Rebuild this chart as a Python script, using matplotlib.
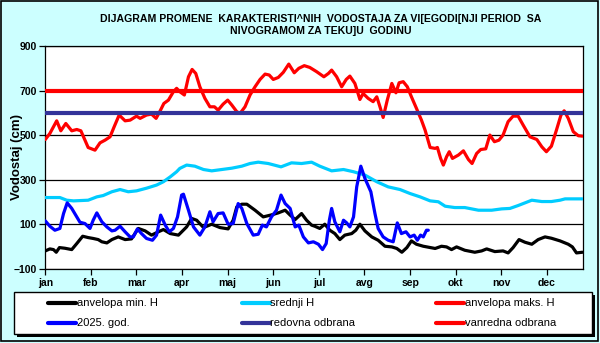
import numpy as np
import matplotlib
matplotlib.use("Agg")
import matplotlib.pyplot as plt
from matplotlib.patches import Rectangle
from matplotlib.lines import Line2D

plt.rcParams['font.family'] = ['Liberation Sans', 'DejaVu Sans']

months = ['jan', 'feb', 'mar', 'apr', 'maj', 'jun', 'jul', 'avg', 'sep', 'okt', 'nov', 'dec']

# x in months (0 = start of jan), y in cm
min_x = [0.0, 0.10, 0.18, 0.24, 0.31, 0.43, 0.58, 0.69, 0.82, 0.94, 1.05, 1.16, 1.24, 1.35, 1.46,
         1.60, 1.75, 1.89, 2.04, 2.19, 2.33, 2.48, 2.59, 2.74, 2.92, 3.10, 3.21, 3.32, 3.47, 3.65,
         3.83, 4.01, 4.12, 4.20, 4.31, 4.42, 4.60, 4.78, 4.96, 5.11, 5.26, 5.37, 5.48, 5.62, 5.73,
         5.84, 5.91, 6.02, 6.13, 6.24, 6.35, 6.46, 6.57, 6.72, 6.81, 6.90, 7.01, 7.16, 7.30, 7.45,
         7.60, 7.71, 7.82, 7.93, 8.03, 8.14, 8.29, 8.55, 8.69, 8.80, 8.91, 9.02, 9.20, 9.42, 9.57,
         9.68, 9.86, 10.04, 10.15, 10.26, 10.39, 10.52, 10.67, 10.81, 10.96, 11.10, 11.29, 11.47,
         11.56, 11.65, 11.78]
min_h = [-20, -11, -14, -26, -5, -8, -14, 13, 46, 40, 36, 31, 21, 16, 31,
         43, 31, 34, 81, 70, 51, 66, 76, 58, 51, 88, 126, 118, 85, 100,
         85, 79, 118, 178, 190, 190, 163, 133, 142, 151, 163, 141, 121, 148, 118,
         96, 91, 81, 100, 73, 58, 31, 51, 58, 73, 100, 70, 43, 28, 1,
         -2, -9, -26, -5, 25, 10, 1, -9, 1, -2, -14, -2, -17, -26, -20,
         -11, -23, -20, -29, -5, 31, 19, 10, 31, 43, 37, 25, 10,
         -2, -29, -26]

mean_x = [0.0, 0.32, 0.47, 0.62, 0.94, 1.13, 1.27, 1.46, 1.64, 1.82, 2.00, 2.22, 2.44, 2.59, 2.74,
          2.88, 2.95, 3.10, 3.28, 3.47, 3.65, 3.87, 4.09, 4.31, 4.49, 4.67, 4.89, 5.17, 5.40, 5.62,
          5.84, 6.02, 6.28, 6.54, 6.76, 7.01, 7.27, 7.52, 7.78, 8.00, 8.22, 8.44, 8.62, 8.77, 8.98,
          9.20, 9.50, 9.79, 10.01, 10.19, 10.37, 10.52, 10.67, 10.89, 11.10, 11.29, 11.40, 11.78]
mean_h = [220, 220, 208, 205, 208, 223, 229, 246, 256, 246, 250, 262, 276, 291, 313,
          336, 351, 366, 361, 346, 340, 346, 352, 361, 373, 379, 373, 358, 376, 373,
          379, 361, 340, 346, 336, 321, 291, 268, 256, 238, 223, 205, 201, 181, 175,
          175, 163, 163, 169, 171, 184, 196, 208, 202, 202, 208, 214, 214]

max_x = [0.0, 0.10, 0.25, 0.34, 0.45, 0.58, 0.69, 0.78, 0.87, 0.94, 1.09, 1.20, 1.31, 1.42, 1.51,
         1.62, 1.75, 1.86, 2.00, 2.08, 2.22, 2.33, 2.43, 2.52, 2.60, 2.70, 2.81, 2.88, 2.95, 3.05,
         3.14, 3.22, 3.30, 3.39, 3.50, 3.61, 3.71, 3.79, 3.90, 4.00, 4.09, 4.20, 4.27, 4.38, 4.49,
         4.60, 4.71, 4.82, 4.91, 5.00, 5.11, 5.22, 5.34, 5.46, 5.56, 5.68, 5.80, 5.95, 6.11, 6.21,
         6.28, 6.39, 6.50, 6.60, 6.68, 6.79, 6.90, 6.97, 7.08, 7.19, 7.27, 7.34, 7.41, 7.50, 7.60,
         7.69, 7.76, 7.85, 7.94, 8.03, 8.14, 8.25, 8.33, 8.44, 8.55, 8.60, 8.67, 8.73, 8.80, 8.86,
         8.93, 9.06, 9.17, 9.28, 9.36, 9.46, 9.55, 9.66, 9.75, 9.85, 9.95, 10.04, 10.15, 10.26,
         10.37, 10.48, 10.63, 10.78, 10.89, 10.99, 11.10, 11.21, 11.31, 11.38, 11.47, 11.58,
         11.69, 11.78]
max_h = [481, 508, 565, 520, 553, 520, 526, 520, 478, 445, 433, 466, 478, 493, 538,
         591, 565, 568, 586, 576, 591, 595, 576, 610, 643, 658, 696, 711, 696, 681,
         763, 796, 778, 718, 666, 628, 628, 613, 640, 658, 636, 606, 598, 628, 681,
         718, 751, 775, 771, 751, 760, 783, 820, 781, 801, 813, 805, 786, 763, 778,
         793, 763, 718, 751, 766, 733, 661, 688, 666, 651, 673, 628, 580, 658, 733,
         691, 736, 741, 718, 673, 621, 568, 523, 445, 441, 445, 396, 366, 403, 426,
         396, 411, 430, 391, 373, 418, 436, 439, 501, 471, 478, 501, 561, 586,
         586, 546, 493, 481, 448, 426, 451, 523, 591, 610, 576, 516,
         498, 496]

cur_x = [0.0, 0.10, 0.21, 0.32, 0.40, 0.48, 0.58, 0.69, 0.76, 0.87, 0.98, 1.05, 1.13, 1.24, 1.35,
         1.46, 1.53, 1.64, 1.75, 1.86, 1.93, 2.02, 2.11, 2.22, 2.35, 2.44, 2.53, 2.63, 2.72, 2.81,
         2.90, 2.99, 3.03, 3.14, 3.25, 3.39, 3.50, 3.61, 3.68, 3.79, 3.90, 4.01, 4.12, 4.23, 4.31,
         4.42, 4.56, 4.67, 4.76, 4.85, 4.96, 5.07, 5.17, 5.26, 5.37, 5.48, 5.56, 5.66, 5.77, 5.88,
         5.99, 6.08, 6.16, 6.23, 6.28, 6.35, 6.46, 6.54, 6.61, 6.68, 6.76, 6.83, 6.92, 7.01, 7.14,
         7.23, 7.30, 7.41, 7.52, 7.63, 7.72, 7.81, 7.91, 8.00, 8.09, 8.16, 8.23, 8.29, 8.36, 8.40]
cur_h = [115, 91, 73, 81, 148, 196, 171, 133, 109, 103, 81, 118, 151, 111, 88,
         70, 73, 91, 66, 43, 43, 79, 58, 36, 28, 51, 141, 96, 66, 81,
         133, 231, 235, 163, 88, 51, 88, 156, 111, 148, 151, 100, 103, 193, 171,
         103, 51, 55, 96, 88, 133, 163, 231, 193, 171, 88, 96, 43, 16, 21,
         10, -14, 13, 118, 171, 111, 66, 118, 106, 88, 133, 268, 361, 306, 246,
         148, 81, 43, 28, 21, 106, 58, 66, 43, 51, 28, 51, 43, 73, 73]

redovna = 600
vanredna = 700

labels = ['anvelopa min. H', '2025. god.', 'srednji H', 'redovna odbrana',
          'anvelopa maks. H', 'vanredna odbrana']
colors = ['black', '#0000FF', '#00CCFF', '#333399', '#FF0000', '#FF0000']

bg = '#CCFFFF'
fig = plt.figure(figsize=(6, 3.43), dpi=100, facecolor=bg)
ax = fig.add_axes([0.0755, 0.2166, 0.8967, 0.6484])
ax.set_facecolor('white')

ax.set_xlim(0, 11.8)
ax.set_ylim(-100, 900)
ax.set_yticks(np.arange(-100, 901, 200))
ax.set_xticks(np.arange(12))
ax.set_xticklabels(months)
ax.grid(axis='y', color='black', linewidth=0.9)
ax.tick_params(axis='y', direction='out', length=4, width=0.9, labelsize=7.5, pad=2)
ax.tick_params(axis='x', direction='out', length=4, width=0.9, labelsize=7.5, pad=3)
for lab in ax.get_xticklabels() + ax.get_yticklabels():
    lab.set_fontweight('bold')
for sp in ax.spines.values():
    sp.set_linewidth(0.9)

lw = 2.3
ax.plot(min_x, min_h, color=colors[0], lw=lw, solid_capstyle='round', zorder=3)
ax.plot(mean_x, mean_h, color=colors[2], lw=lw, solid_capstyle='round', zorder=3)
ax.plot(max_x, max_h, color=colors[4], lw=lw, solid_capstyle='round', zorder=3)
ax.plot(cur_x, cur_h, color=colors[1], lw=lw, solid_capstyle='round', zorder=4)
ax.axhline(redovna, color=colors[3], lw=3, zorder=5)
ax.axhline(vanredna, color=colors[5], lw=3, zorder=5)

W, H = 600.0, 343.0

# y label sits over the tick labels, like in the original
fig.text(17 / W, 1 - 157 / H, 'Vodostaj (cm)', rotation=90, ha='center', va='center',
         fontsize=9.5, fontweight='bold')

fig.text(0.535, 0.946, 'DIJAGRAM PROMENE  KARAKTERISTI^NIH  VODOSTAJA ZA VI[EGODI[NJI PERIOD  SA',
         ha='center', va='center', fontsize=7.6, fontweight='bold')
fig.text(0.535, 0.909, 'NIVOGRAMOM ZA TEKU]U  GODINU',
         ha='center', va='center', fontsize=7.6, fontweight='bold')

# outer frame
fig.patches.append(Rectangle((1 / W, 2 / H), 597 / W, 340 / H, transform=fig.transFigure,
                             fill=False, edgecolor='black', linewidth=1.2))

# legend box with shadow
x0, y0, x1, y1 = 14, 292, 592, 334
fig.patches.append(Rectangle(((x0 + 3) / W, 1 - (y1 + 3) / H), (x1 - x0) / W, (y1 - y0) / H,
                             transform=fig.transFigure, facecolor='black', edgecolor='none'))
fig.patches.append(Rectangle((x0 / W, 1 - y1 / H), (x1 - x0) / W, (y1 - y0) / H,
                             transform=fig.transFigure, facecolor='white', edgecolor='black',
                             linewidth=1.0))
col_x = [48, 241.5, 436]
row_y = [303, 323]
for k, (lab, c) in enumerate(zip(labels, colors)):
    cx = col_x[k // 2]
    ry = 1 - row_y[k % 2] / H
    fig.lines.append(Line2D([cx / W, (cx + 28) / W], [ry, ry], transform=fig.transFigure,
                            color=c, lw=3, solid_capstyle='round'))
    fig.text((cx + 29) / W, ry, lab, ha='left', va='center', fontsize=8)

fig.savefig('out.png', dpi=100, facecolor=bg)
